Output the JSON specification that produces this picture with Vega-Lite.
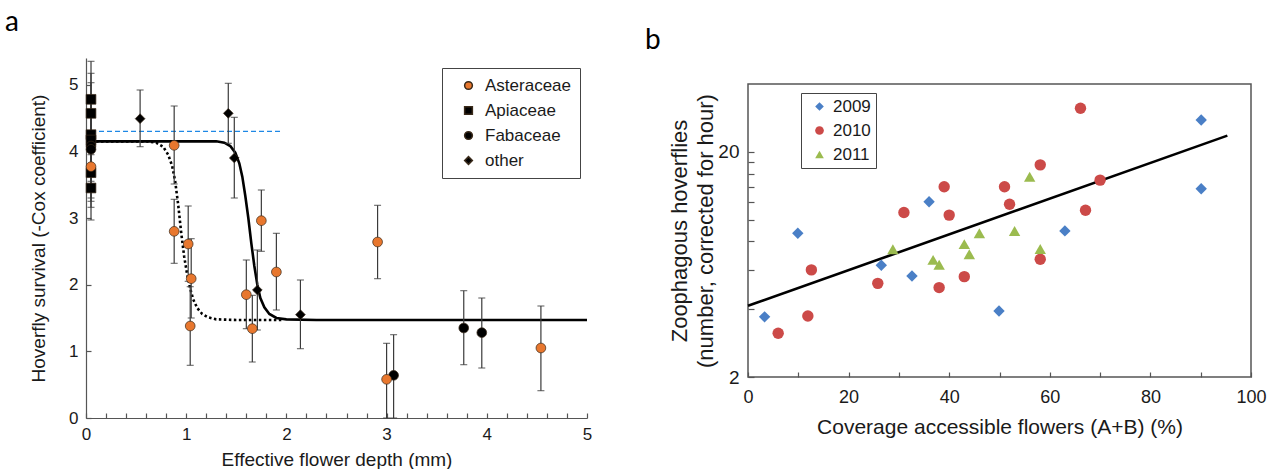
{
  "$schema": "https://vega.github.io/schema/vega-lite/v6.json",
  "padding": {"left": 5, "top": 8, "right": 0, "bottom": 0},
  "background": "white",
  "spacing": 51,
  "config": {
    "font": "Liberation Sans",
    "view": {"stroke": null},
    "axis": {"grid": false, "domainColor": "#555", "tickColor": "#555", "labelColor": "#1a1a1a", "titleColor": "#1a1a1a", "titleFontWeight": "normal", "labelFont": "Liberation Sans", "titleFont": "Liberation Sans", "labelOverlap": false, "labelFlush": false},
    "legend": {"labelFont": "Liberation Sans", "labelColor": "#1a1a1a"}
  },
  "datasets": {
    "refLine": [{"x": 0.05, "y": 4.3}, {"x": 1.96, "y": 4.3}],
    "solidFit": [
      {"x": 0.05, "y": 4.15}, {"x": 1.3, "y": 4.15}, {"x": 1.38, "y": 4.13}, {"x": 1.44, "y": 4.08}, {"x": 1.49, "y": 3.98},
      {"x": 1.53, "y": 3.82}, {"x": 1.56, "y": 3.62}, {"x": 1.59, "y": 3.33}, {"x": 1.62, "y": 3.0}, {"x": 1.65, "y": 2.62},
      {"x": 1.68, "y": 2.28}, {"x": 1.71, "y": 2.0}, {"x": 1.74, "y": 1.8}, {"x": 1.78, "y": 1.66}, {"x": 1.83, "y": 1.56},
      {"x": 1.9, "y": 1.5}, {"x": 2.0, "y": 1.48}, {"x": 2.3, "y": 1.47}, {"x": 5.0, "y": 1.47}
    ],
    "dottedFit": [
      {"x": 0.05, "y": 4.15}, {"x": 0.6, "y": 4.15}, {"x": 0.7, "y": 4.13}, {"x": 0.77, "y": 4.07}, {"x": 0.82, "y": 3.95},
      {"x": 0.86, "y": 3.78}, {"x": 0.89, "y": 3.55}, {"x": 0.92, "y": 3.2}, {"x": 0.95, "y": 2.78}, {"x": 0.98, "y": 2.42},
      {"x": 1.01, "y": 2.15}, {"x": 1.04, "y": 1.94}, {"x": 1.07, "y": 1.78}, {"x": 1.11, "y": 1.65}, {"x": 1.16, "y": 1.56},
      {"x": 1.22, "y": 1.51}, {"x": 1.3, "y": 1.48}, {"x": 1.5, "y": 1.47}, {"x": 1.95, "y": 1.47}
    ],
    "survival": [
      {"x": 0.05, "y": 4.78, "lo": 4.22, "hi": 5.35, "family": "Apiaceae"},
      {"x": 0.05, "y": 4.57, "lo": 4.02, "hi": 5.17, "family": "Apiaceae"},
      {"x": 0.05, "y": 4.25, "lo": 3.72, "hi": 4.82, "family": "Apiaceae"},
      {"x": 0.05, "y": 4.17, "lo": 3.62, "hi": 4.72, "family": "Apiaceae"},
      {"x": 0.05, "y": 3.68, "lo": 3.16, "hi": 4.22, "family": "Apiaceae"},
      {"x": 0.05, "y": 3.45, "lo": 2.97, "hi": 3.95, "family": "Apiaceae"},
      {"x": 0.05, "y": 4.08, "lo": 3.55, "hi": 4.62, "family": "Fabaceae"},
      {"x": 0.05, "y": 4.03, "lo": 3.3, "hi": 5.03, "family": "Fabaceae"},
      {"x": 3.07, "y": 0.64, "lo": 0.0, "hi": 1.25, "family": "Fabaceae"},
      {"x": 3.77, "y": 1.35, "lo": 0.8, "hi": 1.91, "family": "Fabaceae"},
      {"x": 3.95, "y": 1.28, "lo": 0.75, "hi": 1.8, "family": "Fabaceae"},
      {"x": 0.05, "y": 3.77, "lo": 3.25, "hi": 4.3, "family": "Asteraceae"},
      {"x": 0.88, "y": 4.09, "lo": 3.51, "hi": 4.68, "family": "Asteraceae"},
      {"x": 0.88, "y": 2.8, "lo": 2.32, "hi": 3.28, "family": "Asteraceae"},
      {"x": 1.02, "y": 2.61, "lo": 2.05, "hi": 3.18, "family": "Asteraceae"},
      {"x": 1.05, "y": 2.09, "lo": 1.5, "hi": 2.69, "family": "Asteraceae"},
      {"x": 1.04, "y": 1.38, "lo": 0.79, "hi": 1.97, "family": "Asteraceae"},
      {"x": 1.6, "y": 1.85, "lo": 1.34, "hi": 2.37, "family": "Asteraceae"},
      {"x": 1.66, "y": 1.34, "lo": 0.84, "hi": 1.84, "family": "Asteraceae"},
      {"x": 1.75, "y": 2.96, "lo": 2.5, "hi": 3.42, "family": "Asteraceae"},
      {"x": 1.9, "y": 2.19, "lo": 1.62, "hi": 2.77, "family": "Asteraceae"},
      {"x": 2.91, "y": 2.64, "lo": 2.09, "hi": 3.19, "family": "Asteraceae"},
      {"x": 3.0, "y": 0.58, "lo": 0.0, "hi": 1.12, "family": "Asteraceae"},
      {"x": 4.54, "y": 1.05, "lo": 0.41, "hi": 1.68, "family": "Asteraceae"},
      {"x": 0.54, "y": 4.49, "lo": 4.07, "hi": 4.92, "family": "other"},
      {"x": 1.42, "y": 4.57, "lo": 4.12, "hi": 5.02, "family": "other"},
      {"x": 1.48, "y": 3.9, "lo": 3.3, "hi": 4.51, "family": "other"},
      {"x": 1.71, "y": 1.92, "lo": 1.32, "hi": 2.52, "family": "other"},
      {"x": 2.14, "y": 1.55, "lo": 1.04, "hi": 2.07, "family": "other"}
    ],
    "hoverflies": [
      {"pct": 3.3, "n": 3.7, "year": "2009"}, {"pct": 9.9, "n": 8.7, "year": "2009"}, {"pct": 26.5, "n": 6.27, "year": "2009"},
      {"pct": 32.6, "n": 5.62, "year": "2009"}, {"pct": 36, "n": 12.0, "year": "2009"}, {"pct": 49.9, "n": 3.93, "year": "2009"},
      {"pct": 63, "n": 8.91, "year": "2009"}, {"pct": 90.1, "n": 27.7, "year": "2009"}, {"pct": 90.1, "n": 13.7, "year": "2009"},
      {"pct": 6, "n": 3.13, "year": "2010"}, {"pct": 11.9, "n": 3.73, "year": "2010"}, {"pct": 12.6, "n": 5.98, "year": "2010"},
      {"pct": 25.8, "n": 5.21, "year": "2010"}, {"pct": 31, "n": 10.75, "year": "2010"}, {"pct": 38, "n": 4.99, "year": "2010"},
      {"pct": 39, "n": 14.0, "year": "2010"}, {"pct": 40, "n": 10.47, "year": "2010"}, {"pct": 43, "n": 5.58, "year": "2010"},
      {"pct": 51, "n": 14.0, "year": "2010"}, {"pct": 52, "n": 11.7, "year": "2010"}, {"pct": 58.1, "n": 17.5, "year": "2010"},
      {"pct": 58.1, "n": 6.67, "year": "2010"}, {"pct": 66.1, "n": 31.2, "year": "2010"}, {"pct": 67.1, "n": 11.0, "year": "2010"},
      {"pct": 70, "n": 14.97, "year": "2010"},
      {"pct": 28.8, "n": 7.38, "year": "2011"}, {"pct": 36.8, "n": 6.62, "year": "2011"}, {"pct": 38, "n": 6.3, "year": "2011"},
      {"pct": 43, "n": 7.78, "year": "2011"}, {"pct": 44, "n": 7.02, "year": "2011"}, {"pct": 46, "n": 8.7, "year": "2011"},
      {"pct": 53, "n": 8.9, "year": "2011"}, {"pct": 56, "n": 15.5, "year": "2011"}, {"pct": 58.1, "n": 7.4, "year": "2011"}
    ],
    "regLine": [{"pct": 0, "n": 4.14}, {"pct": 95.3, "n": 23.6}]
  },
  "resolve": {
    "scale": {"x": "independent", "y": "independent", "color": "independent", "shape": "independent"},
    "legend": {"color": "independent", "shape": "independent"}
  },
  "hconcat": [
    {
      "width": 501,
      "height": 334,
      "view": {"stroke": null},
      "title": {"text": "a", "anchor": "start", "frame": "group", "dx": -81, "offset": 24, "fontSize": 28, "font": "Lato", "fontWeight": "normal", "color": "#000000"},
      "layer": [
        {
          "data": {"name": "refLine"},
          "mark": {"type": "line", "stroke": "#1E88E5", "strokeDash": [5, 3], "strokeWidth": 1.3},
          "encoding": {
            "x": {"field": "x", "type": "quantitative", "scale": {"domain": [0, 5], "nice": false, "zero": false},
              "axis": {"title": "Effective flower depth (mm)", "values": [0, 0.2, 0.4, 0.6, 0.8, 1, 1.2, 1.4, 1.6, 1.8, 2, 2.2, 2.4, 2.6, 2.8, 3, 3.2, 3.4, 3.6, 3.8, 4, 4.2, 4.4, 4.6, 4.8, 5],
                "tickCount": 40,
                "labelExpr": "abs(datum.value - round(datum.value)) < 0.001 ? format(datum.value, 'd') : ''", "labelOverlap": false,
                "tickSize": -5, "labelPadding": 13, "labelFontSize": 17, "titleFontSize": 19, "titlePadding": 8, "domainWidth": 1.2, "tickWidth": 1.2}},
            "y": {"field": "y", "type": "quantitative", "title": "Hoverfly survival (-Cox coefficient)", "scale": {"domain": [0, 5.4], "nice": false, "range": [334, -26]},
              "axis": {"title": "Hoverfly survival (-Cox coefficient)", "values": [0, 1, 2, 3, 4, 5], "tickCount": 10, "format": "d", "tickSize": -5, "labelPadding": 13, "labelFontSize": 17, "titleFontSize": 19, "titlePadding": 20, "domainWidth": 1.2, "tickWidth": 1.2}}
          }
        },
        {
          "data": {"name": "dottedFit"},
          "mark": {"type": "line", "color": "#000000", "strokeDash": [2.5, 2.5], "strokeWidth": 2.6},
          "encoding": {"x": {"field": "x", "type": "quantitative"}, "y": {"field": "y", "type": "quantitative", "title": "Hoverfly survival (-Cox coefficient)"}}
        },
        {
          "data": {"name": "solidFit"},
          "mark": {"type": "line", "color": "#000000", "strokeWidth": 2.6},
          "encoding": {"x": {"field": "x", "type": "quantitative"}, "y": {"field": "y", "type": "quantitative", "title": "Hoverfly survival (-Cox coefficient)"}}
        },
        {
          "data": {"name": "survival"},
          "mark": {"type": "errorbar", "color": "#3a3a3a", "thickness": 1.2, "ticks": {"size": 7}},
          "encoding": {"x": {"field": "x", "type": "quantitative"}, "y": {"field": "lo", "type": "quantitative", "title": "Hoverfly survival (-Cox coefficient)"}, "y2": {"field": "hi"}}
        },
        {
          "data": {"name": "survival"},
          "mark": {"type": "point", "filled": true, "size": 95, "stroke": "#3a2a1a", "strokeWidth": 0.7, "opacity": 1},
          "encoding": {
            "x": {"field": "x", "type": "quantitative"},
            "y": {"field": "y", "type": "quantitative", "title": "Hoverfly survival (-Cox coefficient)"},
            "color": {"field": "family", "type": "nominal",
              "scale": {"domain": ["Asteraceae", "Apiaceae", "Fabaceae", "other"], "range": ["#E8772E", "#000000", "#000000", "#000000"]},
              "legend": {"title": null, "orient": "none", "legendX": 356, "legendY": -16, "strokeColor": "#444", "fillColor": "white", "padding": 9, "symbolOffset": 9, "labelOffset": 8, "rowPadding": 7, "labelFontSize": 17, "symbolSize": 60}},
            "shape": {"field": "family", "type": "nominal",
              "scale": {"domain": ["Asteraceae", "Apiaceae", "Fabaceae", "other"], "range": ["circle", "square", "circle", "diamond"]},
              "legend": {"title": null, "orient": "none", "legendX": 356, "legendY": -16, "strokeColor": "#444", "fillColor": "white", "padding": 9, "symbolOffset": 9, "labelOffset": 8, "rowPadding": 7, "labelFontSize": 17, "symbolSize": 60}}
          }
        }
      ]
    },
    {
      "width": 503,
      "height": 293,
      "view": {"stroke": "#555", "strokeWidth": 1.5},
      "title": {"text": "b", "anchor": "start", "frame": "group", "dx": -103, "offset": 29, "fontSize": 28, "font": "Lato", "fontWeight": "normal", "color": "#000000"},
      "layer": [
        {
          "data": {"name": "regLine"},
          "mark": {"type": "line", "color": "#000000", "strokeWidth": 2.6},
          "encoding": {
            "x": {"field": "pct", "type": "quantitative", "scale": {"domain": [0, 100], "nice": false},
              "axis": {"title": "Coverage accessible flowers (A+B) (%)", "values": [0, 10, 20, 30, 40, 50, 60, 70, 80, 90, 100], "tickCount": 20,
                "labelExpr": "datum.value % 20 == 0 ? datum.label : ''", "tickSize": -5, "labelPadding": 16, "labelFontSize": 18, "titleFontSize": 21, "titlePadding": 10, "domain": false, "tickWidth": 1.2}},
            "y": {"field": "n", "type": "quantitative", "scale": {"type": "log", "domain": [2, 40], "nice": false},
              "axis": {"title": ["Zoophagous hoverflies", "(number, corrected for hour)"], "values": [2, 4, 6, 8, 10, 12, 14, 16, 18, 20], "tickCount": 20,
                "labelExpr": "datum.value == 2 || datum.value == 20 ? datum.label : ''", "tickSize": -6, "labelPadding": 15, "labelFontSize": 19, "titleFontSize": 22, "titleLineHeight": 26, "titlePadding": 0, "domain": false, "tickWidth": 1.2}}
          }
        },
        {
          "data": {"name": "hoverflies"},
          "mark": {"type": "point", "filled": true, "size": 130, "opacity": 1},
          "encoding": {
            "x": {"field": "pct", "type": "quantitative"},
            "y": {"field": "n", "type": "quantitative"},
            "color": {"field": "year", "type": "nominal",
              "scale": {"domain": ["2009", "2010", "2011"], "range": ["#4A7FC6", "#CC4A48", "#9BBB4F"]},
              "legend": {"title": null, "orient": "none", "legendX": 53, "legendY": 9, "strokeColor": "#444", "fillColor": "white", "padding": 5, "symbolOffset": 5, "labelOffset": 5, "rowPadding": 6, "labelFontSize": 17, "symbolSize": 75}},
            "shape": {"field": "year", "type": "nominal",
              "scale": {"domain": ["2009", "2010", "2011"], "range": ["diamond", "circle", "triangle-up"]},
              "legend": {"title": null, "orient": "none", "legendX": 53, "legendY": 9, "strokeColor": "#444", "fillColor": "white", "padding": 5, "symbolOffset": 5, "labelOffset": 5, "rowPadding": 6, "labelFontSize": 17, "symbolSize": 75}}
          }
        }
      ]
    }
  ]
}
